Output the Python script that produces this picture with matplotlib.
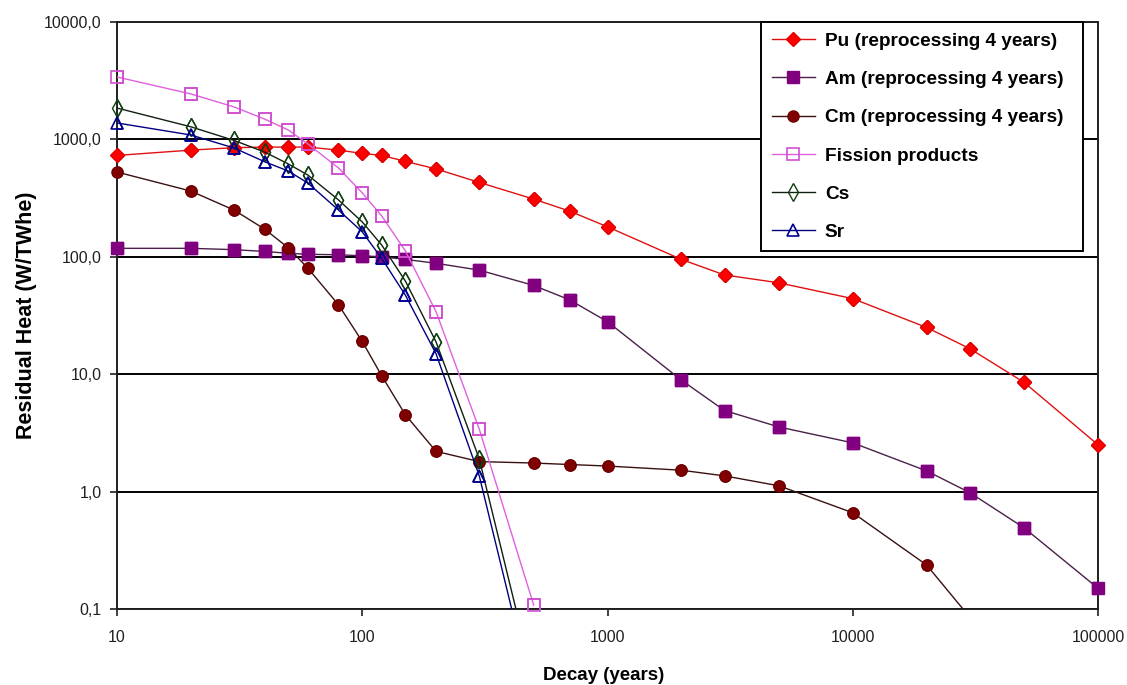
"""Residual heat of the actinides and fission products versus decay time."""

import numpy as np
import matplotlib
matplotlib.use('Agg')
import matplotlib.pyplot as plt


# decay time (years) and residual heat (W/TWhe)
years = [10, 20, 30, 40, 50, 60, 80, 100, 120, 150, 200, 300, 500, 700,
         1000, 2000, 3000, 5000, 10000, 20000, 30000, 50000, 100000]

pu = [730, 810, 850, 860, 860, 860, 810, 760, 730, 650, 560, 430, 310, 245,
      180, 95, 70, 60, 44, 25, 16.5, 8.5, 2.5]
am = [118, 118, 115, 111, 107, 105, 104, 102, 100, 95, 88, 77, 57, 43,
      28, 8.9, 4.9, 3.55, 2.6, 1.5, 0.98, 0.49, 0.15]
cm = [527, 363, 250, 172, 119, 80, 39, 19, 9.7, 4.5, 2.2, 1.8, 1.75, 1.7,
      1.65, 1.52, 1.36, 1.12, 0.66, 0.237, 0.085]

short_years = [10, 20, 30, 40, 50, 60, 80, 100, 120, 150, 200, 300, 500]
fp = [3400, 2440, 1890, 1490, 1200, 915, 571, 350, 223, 112, 34, 3.4, 0.108]
cs = [1850, 1280, 980, 780, 617, 497, 305, 198, 126, 62, 18.8, 1.9, 0.024]
sr = [1380, 1090, 845, 645, 537, 425, 250, 163, 97, 47, 14.9, 1.36, 0.017]

labels = ['Pu (reprocessing 4 years)', 'Am (reprocessing 4 years)',
          'Cm (reprocessing 4 years)', 'Fission products', 'Cs', 'Sr']

y_ticks = [0.1, 1, 10, 100, 1000, 10000]
y_ticklabels = ['0,1', '1,0', '10,0', '100,0', '1000,0', '10000,0']
x_ticks = [10, 100, 1000, 10000, 100000]
x_ticklabels = ['10', '100', '1000', '10000', '100000']


plt.rcParams['font.family'] = ['Liberation Sans', 'DejaVu Sans']

fig = plt.figure(figsize=(11.27, 6.85), dpi=100)
ax = fig.add_axes([0.1038, 0.111, 0.8705, 0.8569])
ax.set_xscale('log')
ax.set_yscale('log')

Y_MIN, Y_MAX = 0.1, 10000


def plot_series(x, y, label, line_color, marker, ms, mfc, mec, mew=1.0, z=4):
    """line clipped to the axes, markers (inside the range) left unclipped"""
    x = np.asarray(x, dtype=float)
    y = np.asarray(y, dtype=float)
    inside = np.where(y >= Y_MIN)[0]
    ax.plot(x, y, '-', color=line_color, lw=1.0, marker=marker, ms=ms,
            mfc=mfc, mec=mec, mew=mew, markevery=list(inside), label=label,
            zorder=z)
    ax.plot(x[inside], y[inside], ls='none', marker=marker, ms=ms, mfc=mfc,
            mec=mec, mew=mew, clip_on=False, zorder=z)


plot_series(years, pu, labels[0], '#e01010', 'D', 7.5, '#ff0000', '#e00000')
plot_series(years, am, labels[1], '#4a2048', 's', 8.5, '#800080', '#800080')
plot_series(years[:len(cm)], cm, labels[2], '#3a1010', 'o', 8,
            '#800000', '#700000')
plot_series(short_years, fp, labels[3], '#e060e0', 's', 9, 'none',
            '#d050d0', mew=1.2, z=5)
plot_series(short_years, cs, labels[4], '#102010', 'd', 9, 'none',
            '#104010', mew=1.0, z=5)
plot_series(short_years, sr, labels[5], '#000080', '^', 9, 'none',
            '#000090', mew=1.2, z=5)

ax.set_xlim(10, 100000)
ax.set_ylim(Y_MIN, Y_MAX)

# ticks and grid
ax.set_xticks(x_ticks)
ax.set_xticklabels(x_ticklabels)
ax.set_yticks(y_ticks)
ax.set_yticklabels(y_ticklabels)
ax.minorticks_off()
ax.tick_params(axis='both', direction='out', length=5, width=1.2,
               colors='#202020', labelsize=11.5)
ax.tick_params(axis='x', pad=10)
ax.tick_params(axis='y', pad=6)
ax.yaxis.grid(True, color='black', lw=1.4)
ax.set_axisbelow(True)
for s in ax.spines.values():
    s.set_color('#202020')
    s.set_linewidth(1.4)

ax.set_xlabel('Decay (years)', fontsize=13.5, fontweight='bold')
ax.xaxis.set_label_coords(0.4964, -0.099)
ax.set_ylabel('Residual Heat (W/TWhe)', fontsize=15.5, fontweight='bold')
ax.yaxis.set_label_coords(-0.0815, 0.5)

leg = ax.legend(loc='upper left', bbox_to_anchor=(0.6565, 0.0, 0.3283, 1.0),
                mode='expand', fontsize=13.7, frameon=True, fancybox=False,
                framealpha=1, edgecolor='black', handlelength=2.3,
                handletextpad=0.5, labelspacing=1.1, borderpad=0.55,
                borderaxespad=0)
leg.get_frame().set_linewidth(1.4)
for t in leg.get_texts():
    t.set_fontweight('bold')
leg.set_zorder(10)

fig.savefig('out.png', dpi=100)
